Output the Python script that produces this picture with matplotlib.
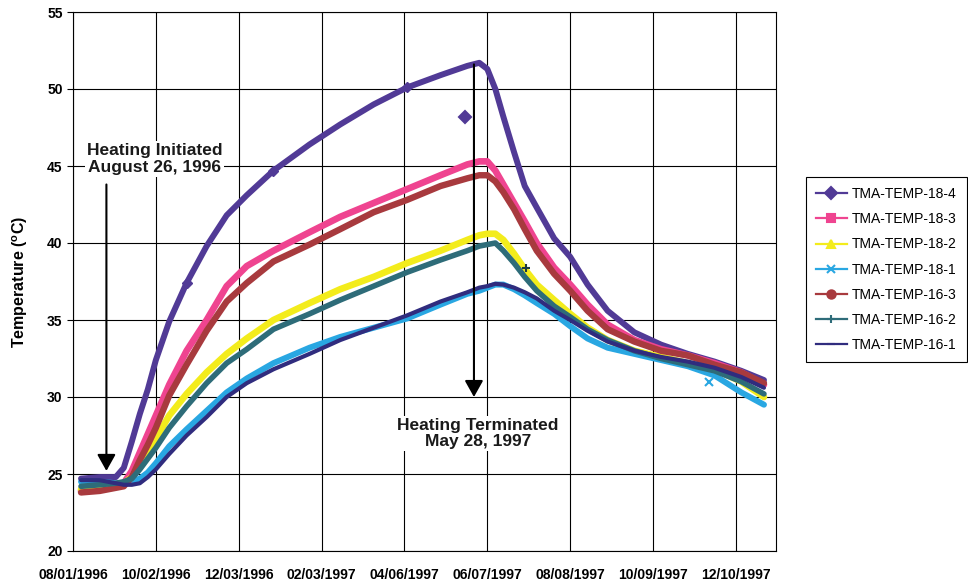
import numpy as np
import matplotlib.pyplot as plt
from matplotlib.lines import Line2D
from datetime import datetime, timedelta

plt.rcParams['font.family'] = ['Liberation Sans', 'DejaVu Sans']
plt.rcParams['mathtext.fontset'] = 'custom'
plt.rcParams['mathtext.rm'] = 'Liberation Sans'
plt.rcParams['mathtext.bf'] = 'Liberation Sans:bold'

# ------ data ------------------------------------

start = datetime(1996, 8, 1)

# days after 08/01/1996 of each plotted reading
days = [6, 20, 32, 38, 44, 50, 56, 62, 72, 85, 100, 115, 130, 150, 177, 200,
        225, 250, 275, 295, 304, 310, 316, 322, 330, 338, 347, 360, 372, 385,
        400, 420, 440, 460, 480, 500, 517]

temp_18_4 = [24.7, 24.8, 24.8, 25.4, 27.1, 28.9, 30.5, 32.4, 34.9, 37.4, 39.8,
             41.8, 43.1, 44.7, 46.4, 47.7, 49.0, 50.1, 50.9, 51.5, 51.7, 51.3,
             50.0, 48.2, 45.9, 43.7, 42.3, 40.3, 39.1, 37.3, 35.6, 34.2, 33.4,
             32.8, 32.3, 31.7, 31.1]
temp_18_3 = [23.9, 24.0, 24.2, 24.4, 25.2, 26.4, 27.6, 28.8, 30.8, 33.0, 35.0,
             37.2, 38.5, 39.5, 40.7, 41.7, 42.6, 43.5, 44.4, 45.1, 45.3, 45.3,
             44.7, 43.8, 42.6, 41.4, 40.0, 38.4, 37.3, 36.0, 34.7, 33.7, 33.1,
             32.7, 32.2, 31.6, 30.8]
temp_18_2 = [24.0, 24.1, 24.3, 24.4, 24.8, 25.7, 26.6, 27.3, 28.8, 30.2, 31.6,
             32.8, 33.8, 35.0, 36.1, 37.0, 37.8, 38.7, 39.5, 40.2, 40.5, 40.6,
             40.6, 40.2, 39.3, 38.3, 37.3, 36.3, 35.4, 34.5, 33.7, 33.0, 32.6,
             32.2, 31.8, 31.0, 30.0]
temp_18_1 = [24.5, 24.5, 24.4, 24.4, 24.5, 24.7, 25.1, 25.7, 26.8, 27.9, 29.1,
             30.3, 31.2, 32.2, 33.2, 33.9, 34.5, 35.1, 36.0, 36.7, 36.9, 37.1,
             37.3, 37.3, 37.0, 36.6, 36.1, 35.4, 34.6, 33.8, 33.2, 32.8, 32.4,
             32.0, 31.4, 30.3, 29.5]
temp_16_3 = [23.8, 23.9, 24.1, 24.2, 24.8, 25.9, 26.9, 28.0, 30.1, 32.1, 34.3,
             36.2, 37.4, 38.8, 39.9, 40.9, 42.0, 42.8, 43.7, 44.2, 44.4, 44.4,
             44.0, 43.3, 42.2, 40.9, 39.5, 38.0, 36.9, 35.6, 34.4, 33.6, 33.0,
             32.7, 32.1, 31.6, 30.9]
temp_16_2 = [24.2, 24.3, 24.4, 24.5, 24.7, 25.3, 26.0, 26.7, 28.0, 29.4, 30.9,
             32.2, 33.1, 34.4, 35.4, 36.3, 37.2, 38.1, 38.9, 39.5, 39.8, 39.9,
             40.0, 39.5, 38.7, 37.8, 36.9, 35.9, 35.2, 34.4, 33.7, 33.0, 32.5,
             32.1, 31.7, 31.0, 30.2]
temp_16_1 = [24.6, 24.6, 24.4, 24.3, 24.3, 24.4, 24.8, 25.3, 26.3, 27.5, 28.7,
             30.0, 30.9, 31.8, 32.8, 33.7, 34.5, 35.3, 36.2, 36.8, 37.1, 37.2,
             37.35, 37.3, 37.1, 36.8, 36.4, 35.6, 35.0, 34.3, 33.6, 33.0, 32.6,
             32.3, 31.9, 31.3, 30.6]

# stray single readings
stray_18_4 = ([293], [48.2])
stray_18_1 = ([476], [31.0])
stray_16_2 = ([339], [38.4])

names = ['TMA-TEMP-18-4', 'TMA-TEMP-18-3', 'TMA-TEMP-18-2', 'TMA-TEMP-18-1',
         'TMA-TEMP-16-3', 'TMA-TEMP-16-2', 'TMA-TEMP-16-1']
series = [temp_18_4, temp_18_3, temp_18_2, temp_18_1, temp_16_3, temp_16_2, temp_16_1]

tick_labels = ['08/01/1996', '10/02/1996', '12/03/1996', '02/03/1997', '04/06/1997',
               '06/07/1997', '08/08/1997', '10/09/1997', '12/10/1997']

heat_on = datetime(1996, 8, 26)
heat_off = datetime(1997, 5, 28)

# ------ styles ----------------------------------

colors = ['#513a96', '#ef4490', '#f3ec1c', '#29a7e2', '#a83a3e', '#2e6c79', '#302c7e']
markers = ['D', 's', '^', 'x', 'o', '+', '_']
widths = [4.3, 4.8, 4.8, 4.3, 4.6, 4.0, 3.0]
mark_at = [[9, 13, 17], [], [], [], [], [], []]


def to_dates(dlist):
    return [start + timedelta(days=d) for d in dlist]


# ------ plot ------------------------------------

fig = plt.figure(figsize=(9.68, 5.83), dpi=100)
ax = fig.add_axes([73 / 968, 32 / 583, 703 / 968, 539 / 583])

x = to_dates(days)
for vals, c, m, w, me in zip(series, colors, markers, widths, mark_at):
    ax.plot(x, vals, color=c, lw=w, solid_capstyle='round', solid_joinstyle='round',
            marker=m, ms=5.5, mew=1.0, markevery=me, zorder=3)

for (sd, sv), c, m in zip([stray_18_4, stray_18_1, stray_16_2],
                          [colors[0], colors[3], '#1c3a40'], ['D', 'x', '+']):
    ax.plot(to_dates(sd), sv, ls='none', marker=m, ms=6, mew=1.5, color=c, zorder=3)

ticks = [datetime.strptime(s, '%m/%d/%Y') for s in tick_labels]
ax.set_xticks(ticks)
ax.set_xticklabels(tick_labels, fontsize=10, fontweight='bold')
ax.set_xlim(start, datetime(1998, 1, 9))
ax.set_ylim(20, 55)
ax.set_yticks(range(20, 56, 5))
ax.tick_params(axis='y', labelsize=10, length=4, width=0.8, direction='out')
for t in ax.get_yticklabels():
    t.set_fontweight('bold')
ax.tick_params(axis='x', length=0, pad=12)

ax.grid(True, color='black', lw=0.8)
ax.set_axisbelow(True)
for s in ax.spines.values():
    s.set_linewidth(0.8)

ax.set_ylabel(r'Temperature ($\mathbf{^o}$C)', fontsize=11.5, fontweight='bold', labelpad=12)

arrow = dict(arrowstyle='-|>,head_length=0.5,head_width=0.28', color='black', lw=1.5,
             mutation_scale=20, shrinkA=0, shrinkB=0)
ax.annotate('', xy=(heat_on, 25.2), xytext=(heat_on, 43.8), arrowprops=arrow, zorder=4)
ax.annotate('', xy=(heat_off, 30.0), xytext=(heat_off, 51.6), arrowprops=arrow, zorder=4)

box = dict(facecolor='white', edgecolor='none', pad=1.5)
ax.text(start + timedelta(days=61), 45.45, 'Heating Initiated\nAugust 26, 1996',
        ha='center', va='center', fontsize=12.5, fontweight='bold', linespacing=1.1,
        color='#1a1a1a', bbox=box, zorder=5)
ax.text(start + timedelta(days=303), 27.65, 'Heating Terminated\nMay 28, 1997',
        ha='center', va='center', fontsize=12.5, fontweight='bold', linespacing=1.1,
        color='#1a1a1a', bbox=box, zorder=5)

handles = [Line2D([], [], color=c, marker=m, lw=1.6, ms=6, mew=1.5)
           for c, m in zip(colors, markers)]
leg = ax.legend(handles, names, loc='upper left', bbox_to_anchor=(1.043, 0.693),
                fontsize=10, fancybox=False, edgecolor='black', framealpha=1,
                handlelength=2.2, handletextpad=0.4, labelspacing=0.8,
                borderpad=0.7, borderaxespad=0)
leg.get_frame().set_linewidth(0.8)

plt.savefig('out.png', dpi=100)
